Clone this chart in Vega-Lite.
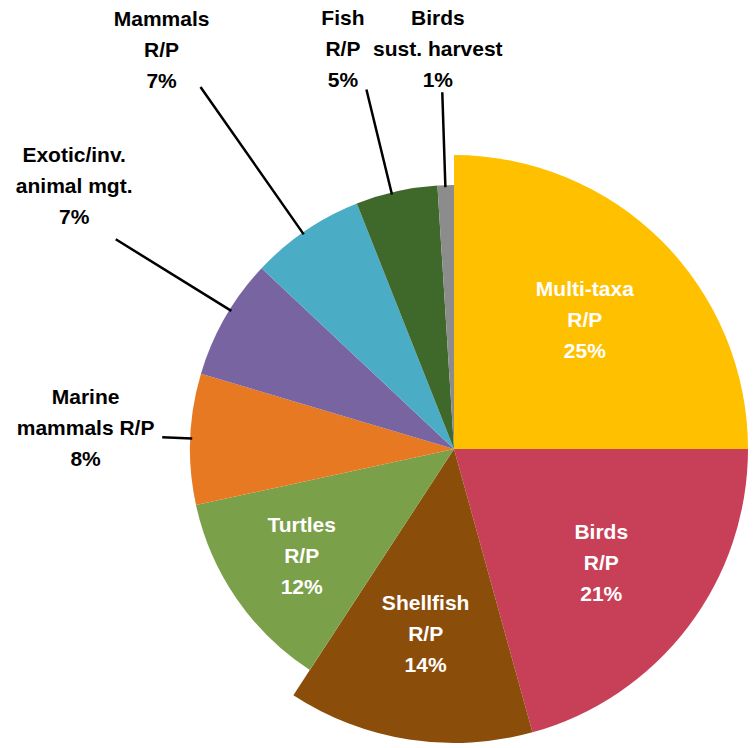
{
  "$schema": "https://vega.github.io/schema/vega-lite/v6.json",
  "width": 604,
  "height": 598,
  "autosize": {"type": "none"},
  "padding": {"left": 152, "top": 150, "right": 0, "bottom": 0},
  "background": "white",
  "config": {"view": {"stroke": null}},
  "data": {
    "values": [
      {"name": "Multi-taxa R/P", "share": 25.0, "label": "Multi-taxa\nR/P\n25%"},
      {"name": "Birds R/P", "share": 20.7, "label": "Birds\nR/P\n21%"},
      {"name": "Shellfish R/P", "share": 13.5, "label": "Shellfish\nR/P\n14%"},
      {"name": "Turtles R/P", "share": 12.4, "label": "Turtles\nR/P\n12%"},
      {"name": "Marine mammals R/P", "share": 8.0, "label": "Marine\nmammals R/P\n8%"},
      {"name": "Exotic/inv. animal mgt.", "share": 7.4, "label": "Exotic/inv.\nanimal mgt.\n7%"},
      {"name": "Mammals R/P", "share": 7.0, "label": "Mammals\nR/P\n7%"},
      {"name": "Fish R/P", "share": 5.0, "label": "Fish\nR/P\n5%"},
      {"name": "Birds sust. harvest", "share": 1.0, "label": "Birds\nsust. harvest\n1%"}
    ]
  },
  "transform": [
    {
      "stack": "share",
      "groupby": [],
      "sort": [{"field": "share", "order": "descending"}],
      "as": ["t0", "t1"],
      "offset": "normalize"
    }
  ],
  "layer": [
    {
      "transform": [{"filter": {"field": "name", "oneOf": ["Multi-taxa R/P", "Birds R/P", "Shellfish R/P"]}}],
      "mark": {"type": "arc", "radius": 294},
      "encoding": {
        "theta": {"field": "t0", "type": "quantitative", "scale": {"domain": [0, 1], "range": [0, 6.283185307179586]}},
        "theta2": {"field": "t1"},
        "color": {
          "field": "name", "type": "nominal", "legend": null,
          "scale": {
            "domain": ["Multi-taxa R/P", "Birds R/P", "Shellfish R/P", "Turtles R/P", "Marine mammals R/P", "Exotic/inv. animal mgt.", "Mammals R/P", "Fish R/P", "Birds sust. harvest"],
            "range": ["#FFC000", "#C84058", "#8B4D0A", "#7AA04A", "#E67922", "#7864A0", "#4BACC6", "#3F682B", "#8C8C8C"]
          }
        }
      }
    },
    {
      "transform": [{"filter": {"not": {"field": "name", "oneOf": ["Multi-taxa R/P", "Birds R/P", "Shellfish R/P"]}}}],
      "mark": {"type": "arc", "radius": 264},
      "encoding": {
        "theta": {"field": "t0", "type": "quantitative", "scale": {"domain": [0, 1], "range": [0, 6.283185307179586]}},
        "theta2": {"field": "t1"},
        "color": {"field": "name", "type": "nominal", "legend": null}
      }
    },
    {
      "transform": [{"filter": {"field": "name", "equal": "Marine mammals R/P"}}],
      "mark": {"type": "arc", "radius": 292, "radius2": 262, "thetaOffset": 0.2538, "theta2Offset": 0.2538, "filled": false, "stroke": "#000000", "strokeWidth": 2.5},
      "encoding": {"theta": {"field": "t0", "type": "quantitative", "scale": {"domain": [0, 1], "range": [0, 6.283185307179586]}}, "theta2": {"field": "t0"}}
    },
    {
      "transform": [{"filter": {"field": "name", "equal": "Exotic/inv. animal mgt."}}],
      "mark": {"type": "arc", "radius": 398, "radius2": 262, "thetaOffset": 0.266, "theta2Offset": 0.266, "filled": false, "stroke": "#000000", "strokeWidth": 2.5},
      "encoding": {"theta": {"field": "t0", "type": "quantitative", "scale": {"domain": [0, 1], "range": [0, 6.283185307179586]}}, "theta2": {"field": "t0"}}
    },
    {
      "transform": [{"filter": {"field": "name", "equal": "Mammals R/P"}}],
      "mark": {"type": "arc", "radius": 442, "radius2": 262, "thetaOffset": 0.206, "theta2Offset": 0.206, "filled": false, "stroke": "#000000", "strokeWidth": 2.5},
      "encoding": {"theta": {"field": "t0", "type": "quantitative", "scale": {"domain": [0, 1], "range": [0, 6.283185307179586]}}, "theta2": {"field": "t0"}}
    },
    {
      "transform": [{"filter": {"field": "name", "equal": "Fish R/P"}}],
      "mark": {"type": "arc", "radius": 370, "radius2": 262, "thetaOffset": 0.138, "theta2Offset": 0.138, "filled": false, "stroke": "#000000", "strokeWidth": 2.5},
      "encoding": {"theta": {"field": "t0", "type": "quantitative", "scale": {"domain": [0, 1], "range": [0, 6.283185307179586]}}, "theta2": {"field": "t0"}}
    },
    {
      "transform": [{"filter": {"field": "name", "equal": "Birds sust. harvest"}}],
      "mark": {"type": "arc", "radius": 357, "radius2": 262, "thetaOffset": 0.030, "theta2Offset": 0.030, "filled": false, "stroke": "#000000", "strokeWidth": 2.5},
      "encoding": {"theta": {"field": "t0", "type": "quantitative", "scale": {"domain": [0, 1], "range": [0, 6.283185307179586]}}, "theta2": {"field": "t0"}}
    },
    {
      "mark": {"type": "text", "radius": 185, "dy": -28, "fill": "#FFFFFF", "font": "Liberation Sans", "fontWeight": "bold", "fontSize": 21, "lineHeight": 31, "lineBreak": "\n", "align": "center", "baseline": "middle"},
      "encoding": {
        "theta": {"field": "share", "type": "quantitative", "stack": "normalize", "scale": {"domain": [0, 1], "range": [0, 6.283185307179586]}},
        "order": {"field": "share", "sort": "descending"},
        "text": {"condition": {"test": "indexof(['Multi-taxa R/P','Birds R/P','Shellfish R/P','Turtles R/P'], datum.name) >= 0", "field": "label", "type": "nominal"}, "value": ""}
      }
    },
    {
      "mark": {"type": "text", "radius": 369, "thetaOffset": 0.019, "dy": -30, "fill": "#000000", "font": "Liberation Sans", "fontWeight": "bold", "fontSize": 21, "lineHeight": 31, "lineBreak": "\n", "align": "center", "baseline": "middle"},
      "encoding": {
        "theta": {"field": "share", "type": "quantitative", "stack": "normalize", "scale": {"domain": [0, 1], "range": [0, 6.283185307179586]}},
        "order": {"field": "share", "sort": "descending"},
        "text": {"condition": {"test": "datum.name === 'Marine mammals R/P'", "field": "label", "type": "nominal"}, "value": ""}
      }
    },
    {
      "mark": {"type": "text", "radius": 462, "thetaOffset": 0.084, "dy": -30, "fill": "#000000", "font": "Liberation Sans", "fontWeight": "bold", "fontSize": 21, "lineHeight": 31, "lineBreak": "\n", "align": "center", "baseline": "middle"},
      "encoding": {
        "theta": {"field": "share", "type": "quantitative", "stack": "normalize", "scale": {"domain": [0, 1], "range": [0, 6.283185307179586]}},
        "order": {"field": "share", "sort": "descending"},
        "text": {"condition": {"test": "datum.name === 'Exotic/inv. animal mgt.'", "field": "label", "type": "nominal"}, "value": ""}
      }
    },
    {
      "mark": {"type": "text", "radius": 495, "thetaOffset": -0.035, "dy": -30, "fill": "#000000", "font": "Liberation Sans", "fontWeight": "bold", "fontSize": 21, "lineHeight": 31, "lineBreak": "\n", "align": "center", "baseline": "middle"},
      "encoding": {
        "theta": {"field": "share", "type": "quantitative", "stack": "normalize", "scale": {"domain": [0, 1], "range": [0, 6.283185307179586]}},
        "order": {"field": "share", "sort": "descending"},
        "text": {"condition": {"test": "datum.name === 'Mammals R/P'", "field": "label", "type": "nominal"}, "value": ""}
      }
    },
    {
      "mark": {"type": "text", "radius": 415, "thetaOffset": -0.051, "dy": -30, "fill": "#000000", "font": "Liberation Sans", "fontWeight": "bold", "fontSize": 21, "lineHeight": 31, "lineBreak": "\n", "align": "center", "baseline": "middle"},
      "encoding": {
        "theta": {"field": "share", "type": "quantitative", "stack": "normalize", "scale": {"domain": [0, 1], "range": [0, 6.283185307179586]}},
        "order": {"field": "share", "sort": "descending"},
        "text": {"condition": {"test": "datum.name === 'Fish R/P'", "field": "label", "type": "nominal"}, "value": ""}
      }
    },
    {
      "mark": {"type": "text", "radius": 400, "thetaOffset": -0.009, "dy": -30, "fill": "#000000", "font": "Liberation Sans", "fontWeight": "bold", "fontSize": 21, "lineHeight": 31, "lineBreak": "\n", "align": "center", "baseline": "middle"},
      "encoding": {
        "theta": {"field": "share", "type": "quantitative", "stack": "normalize", "scale": {"domain": [0, 1], "range": [0, 6.283185307179586]}},
        "order": {"field": "share", "sort": "descending"},
        "text": {"condition": {"test": "datum.name === 'Birds sust. harvest'", "field": "label", "type": "nominal"}, "value": ""}
      }
    }
  ]
}
